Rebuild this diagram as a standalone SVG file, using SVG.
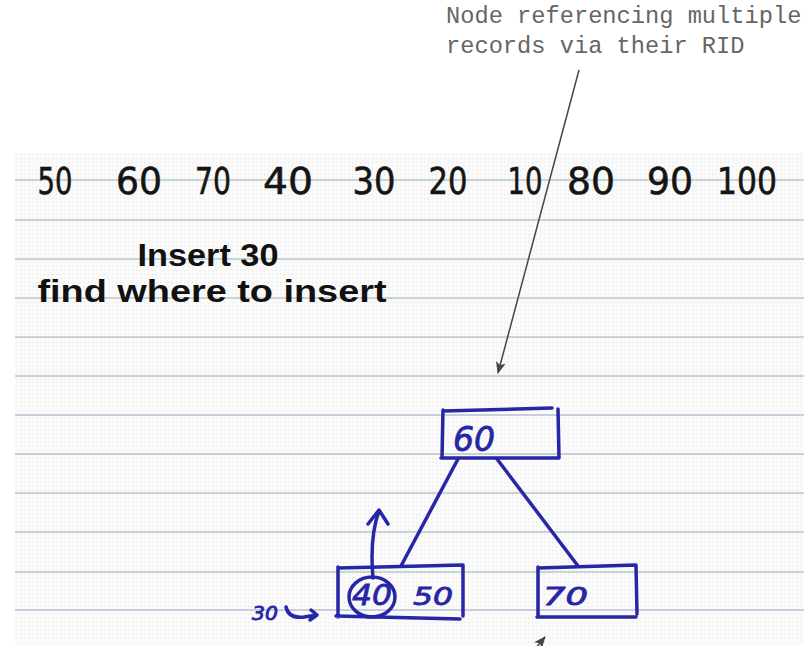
<svg xmlns="http://www.w3.org/2000/svg" width="811" height="646" viewBox="0 0 811 646">
  <style>
    .note { font-family: "Liberation Mono", "Courier New", monospace; font-size: 23.7px; fill: #666666; }
    .seq { font-family: "DejaVu Sans", "Liberation Sans", sans-serif; font-size: 37px; fill: #151515; stroke: #151515; stroke-width: 0.6; text-anchor: middle; }
    .title { font-family: "Liberation Sans", Arial, sans-serif; font-weight: bold; font-size: 32px; fill: #111111; text-anchor: middle; }
    .ink { fill: none; stroke: #2626a6; stroke-width: 3.5; stroke-linecap: round; stroke-linejoin: round; }
    .inktext { font-family: "DejaVu Sans", "Liberation Sans", sans-serif; fill: #2626a6; stroke: #2626a6; stroke-width: 0.8; font-style: italic; }
    .rule { stroke: #c8d5d5; stroke-width: 2; }
    .rule2 { stroke: #c9cedd; stroke-width: 2; }
    .callout { fill: none; stroke: #454545; stroke-width: 1.5; }
  </style>
  <defs>
    <pattern id="dots" x="15" y="153" width="4" height="4" patternUnits="userSpaceOnUse">
      <rect width="4" height="4" fill="#f9faf9"/>
      <rect x="1" y="1" width="1" height="1" fill="#e3e6e3"/>
    </pattern>
    <marker id="head" viewBox="0 0 12 10" refX="11" refY="5" markerWidth="12" markerHeight="10" markerUnits="userSpaceOnUse" orient="auto">
      <path d="M0,0 L12,5 L0,10 L3,5 z" fill="#454545"/>
    </marker>
  </defs>

  <rect width="811" height="646" fill="#ffffff"/>

  <!-- ruled notebook page -->
  <g id="page">
    <rect x="15" y="153" width="789" height="493" fill="url(#dots)"/>
    <line class="rule" x1="15" y1="180" x2="804" y2="180"/>
    <line class="rule" x1="15" y1="220" x2="804" y2="220"/>
    <line class="rule" x1="15" y1="259" x2="804" y2="259"/>
    <line class="rule" x1="15" y1="298" x2="804" y2="298"/>
    <line class="rule" x1="15" y1="337" x2="804" y2="337"/>
    <line class="rule" x1="15" y1="376" x2="804" y2="376"/>
    <line class="rule2" x1="15" y1="415" x2="804" y2="415"/>
    <line class="rule2" x1="15" y1="454" x2="804" y2="454"/>
    <line class="rule" x1="15" y1="493" x2="804" y2="493"/>
    <line class="rule" x1="15" y1="532" x2="804" y2="532"/>
    <line class="rule" x1="15" y1="572" x2="804" y2="572"/>
    <line class="rule2" x1="15" y1="610" x2="804" y2="610"/>
  </g>

  <!-- key sequence -->
  <g id="sequence">
    <text class="seq" x="55" y="194" textLength="35" lengthAdjust="spacingAndGlyphs">50</text>
    <text class="seq" x="139" y="194" textLength="46" lengthAdjust="spacingAndGlyphs">60</text>
    <text class="seq" x="213" y="194" textLength="36" lengthAdjust="spacingAndGlyphs">70</text>
    <text class="seq" x="288" y="194" textLength="50" lengthAdjust="spacingAndGlyphs">40</text>
    <text class="seq" x="374" y="194" textLength="43" lengthAdjust="spacingAndGlyphs">30</text>
    <text class="seq" x="448" y="194" textLength="39" lengthAdjust="spacingAndGlyphs">20</text>
    <text class="seq" x="525" y="194" textLength="35" lengthAdjust="spacingAndGlyphs">10</text>
    <text class="seq" x="591" y="194" textLength="48" lengthAdjust="spacingAndGlyphs">80</text>
    <text class="seq" x="670" y="194" textLength="46" lengthAdjust="spacingAndGlyphs">90</text>
    <text class="seq" x="747" y="194" textLength="60" lengthAdjust="spacingAndGlyphs">100</text>
  </g>

  <g id="heading">
    <text class="title" x="208" y="266" textLength="141" lengthAdjust="spacingAndGlyphs">Insert 30</text>
    <text class="title" x="212" y="302" textLength="349" lengthAdjust="spacingAndGlyphs">find where to insert</text>
  </g>

  <!-- tree edges and callout arrows -->
  <g id="connectors">
    <path class="ink" d="M458,459 L401,566"/>
    <path class="ink" d="M497,459 L578,566"/>
    <path class="callout" d="M579,70 L498,373" marker-end="url(#head)"/>
    <path class="callout" d="M519,668 L545,637" marker-end="url(#head)"/>
  </g>

  <g id="node-root">
    <path class="ink" d="M443,411 L552,408 M558,409 L559,458 L441,458 M443,410 L442,458"/>
    <text class="inktext" x="453" y="451" font-size="34" textLength="42" lengthAdjust="spacingAndGlyphs">60</text>
  </g>

  <g id="node-left">
    <path class="ink" d="M338,568 L463,565 L463,616 M336,616 L460,619 M338,567 L338,617"/>
    <ellipse class="ink" cx="372" cy="597" rx="23" ry="20"/>
    <text class="inktext" x="352" y="605" font-size="28" textLength="40" lengthAdjust="spacingAndGlyphs">40</text>
    <text class="inktext" x="413" y="605" font-size="24" textLength="40" lengthAdjust="spacingAndGlyphs">50</text>
    <path class="ink" d="M373,578 C371,555 372,530 379,511 M368,524 L379,510 L388,524"/>
  </g>

  <g id="node-right">
    <path class="ink" d="M538,568 L636,565 L637,614 M537,617 L636,617 M538,567 L538,617"/>
    <text class="inktext" x="543" y="605" font-size="24" textLength="45" lengthAdjust="spacingAndGlyphs">70</text>
  </g>

  <g id="insert-key">
    <text class="inktext" x="252" y="620" font-size="19" textLength="26" lengthAdjust="spacingAndGlyphs">30</text>
    <path class="ink" d="M286,607 C288,616 296,618 304,617 L317,615 M311,610 L317,615 L310,620" stroke-width="3"/>
  </g>

  <g id="note-rid">
    <text class="note" x="446" y="23">Node referencing multiple</text>
    <text class="note" x="446" y="53">records via their RID</text>
  </g>
</svg>
